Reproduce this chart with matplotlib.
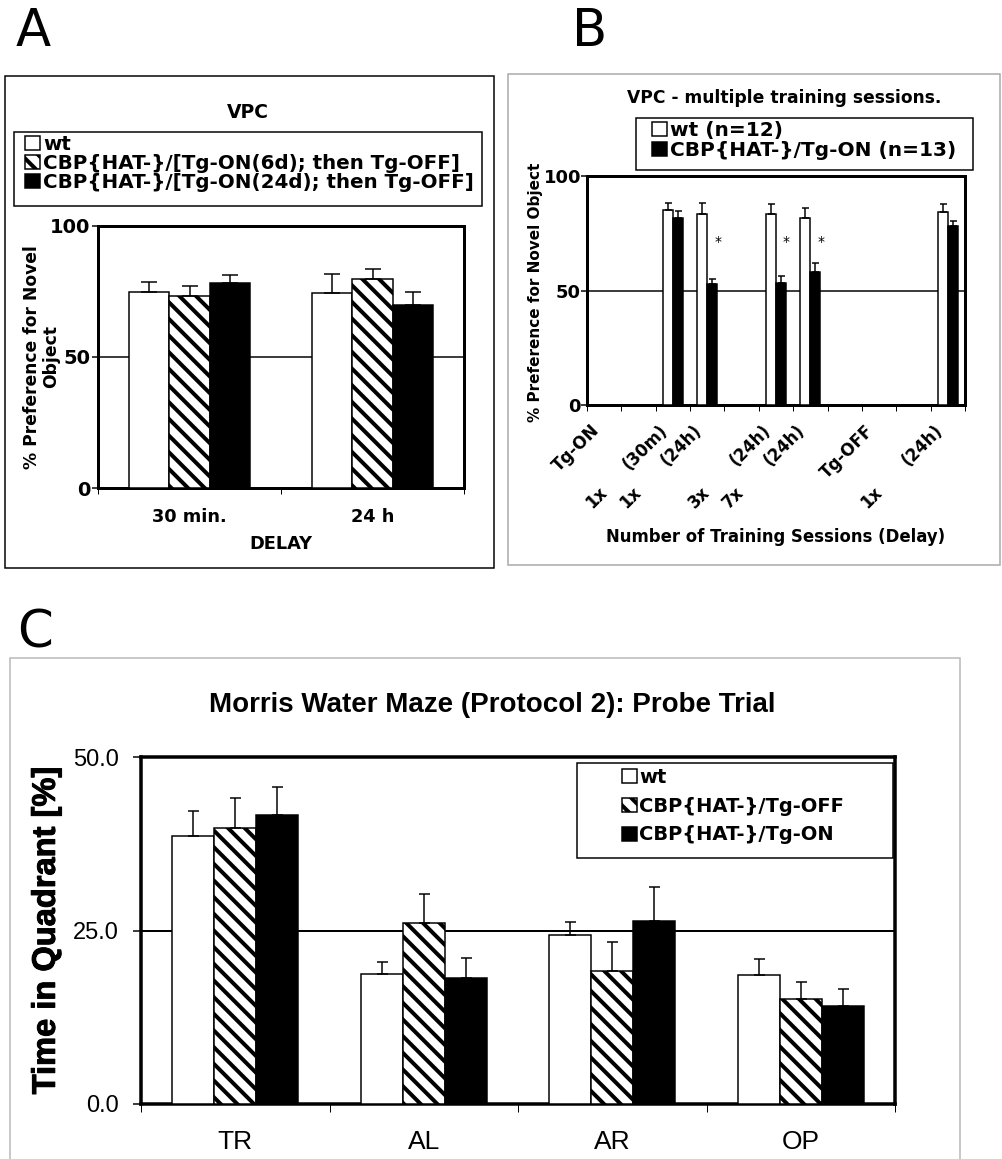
import matplotlib.pyplot as plt
from matplotlib.patches import Rectangle, Patch
import matplotlib.patheffects as pe
import numpy as np

W, H = 1002, 1159
DPI = 100

# ---- panel A: VPC ----
a_delays = ["30 min.", "24 h"]
a_wt = [74.8, 74.4]
a_wt_err = [3.8, 7.3]
a_6d = [73.3, 79.8]
a_6d_err = [3.7, 3.8]
a_24d = [78.2, 69.8]
a_24d_err = [3.1, 5.0]
a_names = ["wt", "CBP{HAT-}/[Tg-ON(6d); then Tg-OFF]",
           "CBP{HAT-}/[Tg-ON(24d); then Tg-OFF]"]

# ---- panel B: VPC, multiple training sessions ----
b_top = ["Tg-ON", "", "(30m)", "(24h)", "", "(24h)", "(24h)", "",
         "Tg-OFF", "", "(24h)"]
b_bottom = ["1x", "1x", "", "3x", "7x", "", "", "", "1x", "", ""]
b_pos = [2, 3, 5, 6, 10]
b_wt = [85.2, 83.3, 83.4, 81.5, 84.4]
b_wt_err = [2.9, 4.8, 4.4, 4.7, 3.2]
b_on = [81.8, 52.8, 53.4, 57.9, 78.2]
b_on_err = [3.1, 2.2, 2.9, 4.2, 2.1]
b_star = [3, 5, 6]
b_names = ["wt (n=12)", "CBP{HAT-}/Tg-ON (n=13)"]

# ---- panel C: Morris water maze probe trial ----
c_quad = ["TR", "AL", "AR", "OP"]
c_wt = [38.6, 18.7, 24.3, 18.6]
c_wt_err = [3.6, 1.8, 1.9, 2.3]
c_off = [39.7, 26.1, 19.2, 15.1]
c_off_err = [4.4, 4.1, 4.1, 2.5]
c_on = [41.7, 18.1, 26.3, 14.1]
c_on_err = [4.0, 3.0, 5.0, 2.5]
c_names = ["wt", "CBP{HAT-}/Tg-OFF", "CBP{HAT-}/Tg-ON"]


def pt(px):
    return px * 72.0 / DPI


def box(l, t, r, b):
    return [l / W, 1 - b / H, (r - l) / W, (b - t) / H]


def fx(x):
    return x / W


def fy(y):
    return 1 - y / H


plt.rcParams['font.family'] = 'DejaVu Sans'
plt.rcParams['font.weight'] = 'bold'
plt.rcParams['axes.labelweight'] = 'bold'
plt.rcParams['hatch.linewidth'] = pt(4)
plt.rcParams['hatch.color'] = 'black'

WHITE = dict(facecolor='white')
HATCH = dict(facecolor='white', hatch='\\\\')
BLACK = dict(facecolor='black')


def grouped(ax, x, series, errs, styles, width, cap):
    n = len(series)
    for i, (vals, err, st) in enumerate(zip(series, errs, styles)):
        off = (i - (n - 1) / 2) * width
        ax.bar(np.asarray(x) + off, vals, width,
               yerr=[np.zeros(len(err)), err], capsize=cap,
               edgecolor='black', linewidth=pt(1.5), zorder=3,
               error_kw=dict(elinewidth=pt(1.5), capthick=pt(1.5),
                             ecolor='black', zorder=4), **st)


def handles(styles):
    return [Patch(edgecolor='black', linewidth=pt(1.5), **st) for st in styles]


def frame(l, t, r, b, color, lw):
    fig.add_artist(Rectangle((fx(l), fy(b)), (r - l) / W, (b - t) / H,
                             transform=fig.transFigure, fill=False,
                             edgecolor=color, linewidth=pt(lw)))


fig = plt.figure(figsize=(W / DPI, H / DPI), dpi=DPI)

# panel letters and frames
fig.text(fx(16), fy(46), "A", fontsize=37, fontweight='normal')
fig.text(fx(572), fy(46), "B", fontsize=37, fontweight='normal')
fig.text(fx(17), fy(648), "C", fontsize=37, fontweight='normal')
frame(5, 76, 494, 568, 'black', 1.5)
frame(508, 74, 1000, 565, '#a8a8a8', 1.5)
frame(10, 658, 960, 1170, '#b8b8b8', 1.5)

# ================= A =================
axA = fig.add_axes(box(98, 226, 464, 488))
xa = np.arange(len(a_delays))
axA.axhline(50, color='black', linewidth=pt(1.5), zorder=1)
grouped(axA, xa, [a_wt, a_6d, a_24d], [a_wt_err, a_6d_err, a_24d_err],
        [WHITE, HATCH, BLACK], 0.222, pt(8))
axA.set_xlim(-0.5, len(a_delays) - 0.5)
axA.set_ylim(0, 100)
axA.set_yticks([0, 50, 100])
axA.tick_params(axis='y', direction='out', length=4, width=pt(1.5),
                pad=pt(2), labelsize=14)
axA.set_xticks(np.arange(len(a_delays) + 1) - 0.5)
axA.set_xticklabels([])
axA.set_xticks(xa, minor=True)
axA.set_xticklabels(a_delays, minor=True, fontsize=12.8)
axA.tick_params(axis='x', which='major', direction='out', length=4,
                width=pt(1))
axA.tick_params(axis='x', which='minor', length=0, pad=pt(20))
for s in axA.spines.values():
    s.set_linewidth(pt(3))
axA.set_xlabel("DELAY", fontsize=12.8)
axA.xaxis.set_label_coords(0.5, -0.18)
axA.xaxis.label.set_va('top')
axA.set_ylabel("% Preference for Novel\nObject", fontsize=12.3,
               linespacing=1.05)
axA.yaxis.set_label_coords(-0.104, 0.5)
fig.text(fx(248), fy(112), "VPC", fontsize=13.5, ha='center', va='center')
frame(14, 132, 482, 206, 'black', 1.5)
fig.legend(handles([WHITE, HATCH, BLACK]), a_names, loc='upper left',
           bbox_to_anchor=(fx(25), fy(135)), frameon=False, fontsize=14.3,
           borderpad=0, borderaxespad=0, labelspacing=0.0,
           handlelength=0.75, handleheight=0.75, handletextpad=0.15)

# ================= B =================
axB = fig.add_axes(box(587, 176, 965, 405))
nb = len(b_top)
axB.axhline(50, color='black', linewidth=pt(1.5), zorder=1)
grouped(axB, b_pos, [b_wt, b_on], [b_wt_err, b_on_err],
        [WHITE, BLACK], 0.29, pt(3.5))
for p in b_star:
    axB.text(p + 0.3, 71, "*", ha='center', va='center', fontsize=10,
             fontweight='normal')
axB.set_xlim(-0.5, nb - 0.5)
axB.set_ylim(0, 100)
axB.set_yticks([0, 50, 100])
axB.tick_params(axis='y', direction='out', length=4, width=pt(1.5),
                pad=pt(0.5), labelsize=13)
axB.set_xticks(np.arange(nb + 1) - 0.5)
axB.set_xticklabels([])
axB.tick_params(axis='x', direction='out', length=4, width=pt(1))
for s in axB.spines.values():
    s.set_linewidth(pt(3))
xt = axB.get_xaxis_transform()
for i, lab in enumerate(b_top):
    if lab:
        axB.text(i - 0.23, -0.10, lab, transform=xt, rotation=45,
                 ha='right', va='center', rotation_mode='anchor',
                 fontsize=12)
for i, lab in enumerate(b_bottom):
    if lab:
        axB.text(i, -0.371, lab, transform=xt, rotation=45,
                 ha='right', va='center', rotation_mode='anchor',
                 fontsize=12)
axB.set_xlabel("Number of Training Sessions (Delay)", fontsize=11.9)
axB.xaxis.set_label_coords(0.5, -0.535)
axB.xaxis.label.set_va('top')
axB.set_ylabel("% Preference for Novel Object", fontsize=11.0)
axB.yaxis.set_label_coords(-0.116, 0.49)
fig.text(fx(784), fy(98), "VPC - multiple training sessions.",
         fontsize=12.3, ha='center', va='center')
frame(636, 118, 973, 170, 'black', 1.5)
fig.legend(handles([WHITE, BLACK]), b_names, loc='upper left',
           bbox_to_anchor=(fx(652), fy(121)), frameon=False, fontsize=14.5,
           borderpad=0, borderaxespad=0, labelspacing=0.05,
           handlelength=0.75, handleheight=0.75, handletextpad=0.15)

# ================= C =================
axC = fig.add_axes(box(141, 757, 895, 1104))
xc = np.arange(len(c_quad))
axC.axhline(25, color='black', linewidth=pt(2), zorder=1)
grouped(axC, xc, [c_wt, c_off, c_on], [c_wt_err, c_off_err, c_on_err],
        [WHITE, HATCH, BLACK], 0.223, pt(5.5))
axC.set_xlim(-0.5, len(c_quad) - 0.5)
axC.set_ylim(0, 50)
axC.set_yticks([0, 25, 50])
axC.set_yticklabels([f"{v:.1f}" for v in [0, 25, 50]],
                    fontfamily='Liberation Sans', fontweight='normal',
                    fontsize=17)
axC.tick_params(axis='y', direction='out', length=6, width=pt(1.5),
                pad=pt(14))
axC.set_xticks(np.arange(len(c_quad) + 1) - 0.5)
axC.set_xticklabels([])
axC.set_xticks(xc, minor=True)
axC.set_xticklabels(c_quad, minor=True, fontfamily='Liberation Sans',
                    fontweight='normal', fontsize=19)
axC.tick_params(axis='x', which='major', direction='out', length=6,
                width=pt(1))
axC.tick_params(axis='x', which='minor', length=0, pad=pt(26))
for s in axC.spines.values():
    s.set_linewidth(pt(3.5))
axC.set_ylabel("Time in Quadrant [%]", fontfamily='Liberation Sans',
               fontweight='bold', fontsize=23.5,
               path_effects=[pe.withStroke(linewidth=0.7, foreground='black')])
axC.yaxis.set_label_coords(-0.105, 0.5)
fig.text(fx(492), fy(705), "Morris Water Maze (Protocol 2): Probe Trial",
         fontfamily='Liberation Sans', fontsize=20, ha='center',
         va='center')
frame(577, 763, 893, 858, 'black', 1.5)
fig.legend(handles([WHITE, HATCH, BLACK]), c_names, loc='upper left',
           bbox_to_anchor=(fx(622), fy(768)), frameon=False, fontsize=14,
           borderpad=0, borderaxespad=0, labelspacing=0.5,
           handlelength=0.75, handleheight=0.75, handletextpad=0.15)

fig.savefig("out.png", dpi=DPI, facecolor='white')
